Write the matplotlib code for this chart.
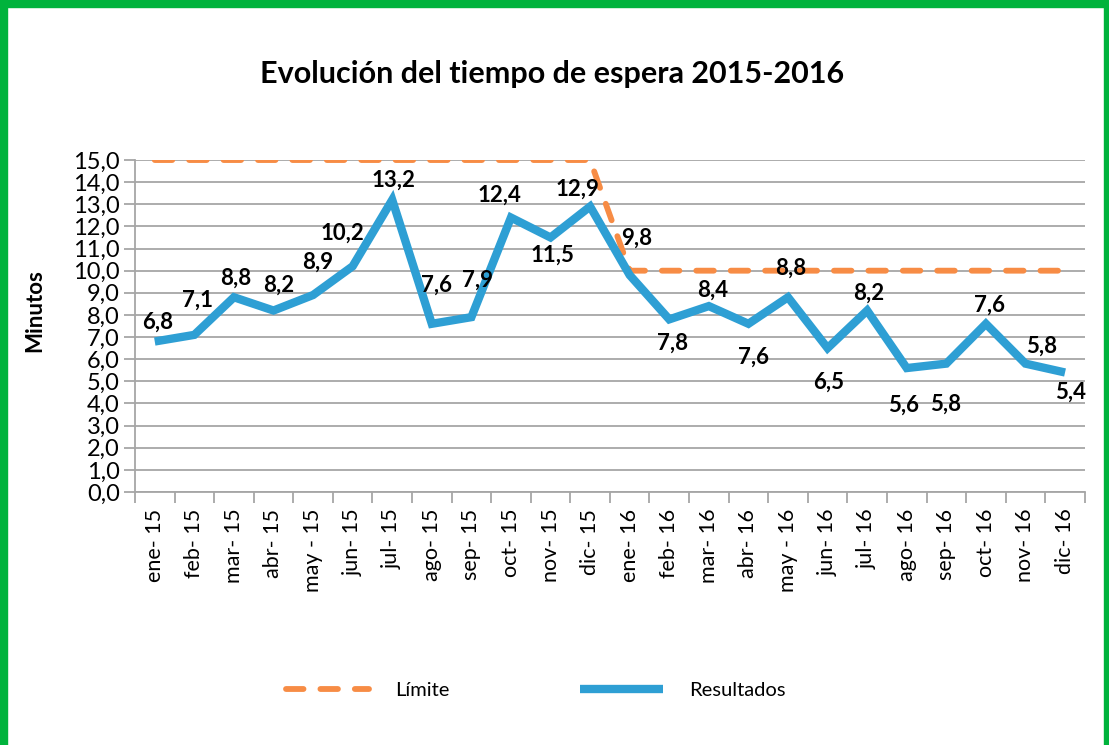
import matplotlib
matplotlib.use("Agg")
import matplotlib.pyplot as plt
from matplotlib.patches import Rectangle

# Data
MONTHS = ["ene- 15", "feb- 15", "mar- 15", "abr- 15", "may - 15", "jun- 15",
          "jul- 15", "ago- 15", "sep- 15", "oct- 15", "nov- 15", "dic- 15",
          "ene- 16", "feb- 16", "mar- 16", "abr- 16", "may - 16", "jun- 16",
          "jul- 16", "ago- 16", "sep- 16", "oct- 16", "nov- 16", "dic- 16"]
RESULTADOS = [6.8, 7.1, 8.8, 8.2, 8.9, 10.2, 13.2, 7.6, 7.9, 12.4, 11.5, 12.9,
              9.8, 7.8, 8.4, 7.6, 8.8, 6.5, 8.2, 5.6, 5.8, 7.6, 5.8, 5.4]
LIMITE = [15.0] * 12 + [10.0] * 12
Y_TICKS = list(range(0, 16))

# Layout: label offsets in pixels (dx, dy), dy positive = up
LABEL_OFFSETS = [(3, 19), (3, 35), (2, 19), (5, 25), (5, 33), (-10, 33),
                 (1, 20), (5, 39), (6, 37), (-11, 22), (2, -18), (-13, 17),
                 (7, 37), (3, -24), (4, 16), (5, -33), (3, 29), (1, -34),
                 (2, 17), (-3, -37), (-1, -41), (4, 19), (16, 17), (6, -20)]

BLUE = "#2E9FD4"
ORANGE = "#F78C45"
GREEN = "#00B33C"
GRID = "#A6A6A6"

FONT = ["Lato", "DejaVu Sans"]
plt.rcParams["font.family"] = FONT

fig = plt.figure(figsize=(11.09, 7.45), dpi=100)
ax = fig.add_axes([0.1217, 0.3396, 0.8565, 0.4456])

x = list(range(len(MONTHS)))

ax.plot(x, LIMITE, color=ORANGE, lw=4.2, dashes=(3.0, 2.9),
        dash_capstyle="round", solid_capstyle="round", label="Límite", zorder=3)
ax.plot(x, RESULTADOS, color=BLUE, lw=6, solid_joinstyle="miter",
        solid_capstyle="butt", label="Resultados", zorder=4)

for xi, v, (dx, dy) in zip(x, RESULTADOS, LABEL_OFFSETS):
    ax.annotate(f"{v:.1f}".replace(".", ","), (xi, v), xytext=(dx, dy),
                textcoords="offset pixels", ha="center", va="center",
                fontsize=16, fontweight="bold", color="black", zorder=5)

ax.set_xlim(-0.5, len(MONTHS) - 0.5)
ax.set_ylim(0, 15)
ax.set_yticks(Y_TICKS)
ax.set_yticklabels([f"{t:.1f}".replace(".", ",") for t in Y_TICKS], fontsize=17)
ax.yaxis.grid(True, color=GRID, lw=1.3)
ax.set_axisbelow(True)

ax.set_xticks(x)
ax.set_xticklabels(MONTHS, rotation=90, fontsize=15.5)
ax.set_xticks([i - 0.5 for i in range(len(MONTHS) + 1)], minor=True)
ax.tick_params(axis="x", which="major", length=0, pad=12)
ax.tick_params(axis="x", which="minor", length=8, color=GRID, width=1.3)
ax.tick_params(axis="y", length=8, color=GRID, width=1.3, pad=3)

for side in ["top", "right"]:
    ax.spines[side].set_visible(False)
for side in ["left", "bottom"]:
    ax.spines[side].set_color(GRID)
    ax.spines[side].set_linewidth(1.3)

ax.set_ylabel("Minutos", fontsize=16, fontweight="bold")
ax.yaxis.set_label_coords(-0.094, 0.548)

fig.text(0.498, 0.90, "Evolución del tiempo de espera 2015-2016",
         ha="center", va="center", fontsize=22, fontweight="bold",
         family=["Liberation Sans Narrow", "Lato", "DejaVu Sans"])

fig.legend(loc="center", bbox_to_anchor=(0.483, 0.073), ncol=2, frameon=False,
           fontsize=14.5, handlelength=4.1, handletextpad=1.3, columnspacing=6.5)

# green frame (left, top, right)
fig.patches.append(Rectangle((0, 0), 7 / 1109, 1, transform=fig.transFigure,
                             color=GREEN, zorder=10))
fig.patches.append(Rectangle((0, 1 - 7 / 745), 1, 7 / 745, transform=fig.transFigure,
                             color=GREEN, zorder=10))
fig.patches.append(Rectangle((1 - 5 / 1109, 0), 5 / 1109, 1, transform=fig.transFigure,
                             color=GREEN, zorder=10))

fig.savefig("out.png", dpi=100)
